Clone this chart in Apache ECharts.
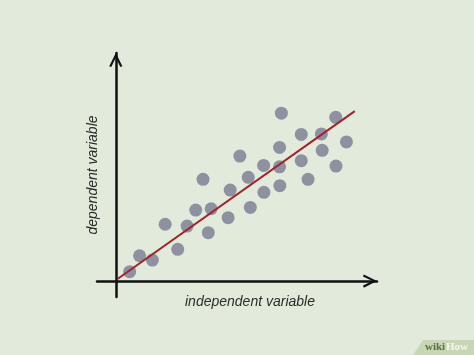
<!DOCTYPE html>
<html>
<head>
<meta charset="utf-8">
<script src="https://cdn.jsdelivr.net/npm/echarts@6/dist/echarts.min.js"></script>
<style>
  html, body { margin: 0; padding: 0; background: #e2ebdb; }
  #chart { width: 474px; height: 355px; }
</style>
</head>
<body>
<div id="chart"></div>
<script>
// scatter points (x, y)
var xValues = [0.53, 0.91, 1.40, 1.89, 2.37, 2.73, 3.06, 3.34, 3.54, 3.65, 4.30, 4.38, 4.75, 5.07, 5.15,
  5.66, 5.67, 6.27, 6.27, 6.28, 6.34, 7.10, 7.10, 7.36, 7.87, 7.90, 8.42, 8.43, 8.83]
var yValues = [0.41, 1.11, 0.92, 2.49, 1.39, 2.41, 3.11, 4.46, 2.12, 3.17, 2.78, 3.99, 5.48, 4.55, 3.23,
  5.07, 3.89, 5.86, 5.01, 4.18, 7.36, 6.43, 5.28, 4.46, 6.45, 5.73, 7.18, 5.04, 6.10]
// fitted line end points
var trendX = [0.05, 9.15]
var trendY = [0.08, 7.45]

var xName = 'independent variable'
var yName = 'dependent variable'

var points = xValues.map(function (x, i) { return [x, yValues[i]] })
var trend = trendX.map(function (x, i) { return [x, trendY[i]] })

// open chevron used as the axis arrow head
var chevron = 'path://M0,10 L5,0 L10,10 L8.4,10.6 L5,3.4 L1.6,10.6 Z'

var chart = echarts.init(document.getElementById('chart'))
var axisLine = {
  show: true,
  onZero: true,
  symbol: ['none', chevron],
  symbolSize: [17, 14],
  symbolOffset: [0, -7],
  lineStyle: { color: '#111', width: 2.5 }
}
var nameStyle = {
  fontFamily: 'Liberation Sans',
  fontStyle: 'italic',
  fontSize: 14,
  color: '#2a2a2a'
}
var option = {
  backgroundColor: '#e2ebdb',
  animation: false,
  grid: { left: 97, right: 97, top: 53, bottom: 58 },
  xAxis: {
    type: 'value',
    min: -0.72,
    max: 10,
    axisLine: axisLine,
    axisTick: { show: false },
    axisLabel: { show: false },
    splitLine: { show: false },
    name: xName,
    nameLocation: 'middle',
    nameGap: -2,
    nameTextStyle: Object.assign({ padding: [0, 0, 0, 26] }, nameStyle)
  },
  yAxis: {
    type: 'value',
    min: -0.7,
    max: 10,
    axisLine: axisLine,
    axisTick: { show: false },
    axisLabel: { show: false },
    splitLine: { show: false },
    name: yName,
    nameLocation: 'middle',
    nameGap: -3,
    nameTextStyle: nameStyle
  },
  series: [{
    type: 'scatter',
    data: points,
    symbolSize: 13,
    itemStyle: { color: '#8e919f', opacity: 1 },
    z: 2
  }, {
    type: 'line',
    data: trend,
    symbol: 'none',
    lineStyle: { color: '#a3212b', width: 2 },
    z: 3
  }],
  graphic: [{
    type: 'polygon',
    shape: { points: [[413, 355], [423, 340], [474, 340], [474, 355]] },
    style: { fill: '#c7d6b5' }
  }, {
    type: 'text',
    left: 425,
    top: 342,
    style: { text: 'wiki', font: 'bold 11px "Liberation Serif"', fill: '#5b6f40' }
  }, {
    type: 'text',
    left: 446,
    top: 342,
    style: { text: 'How', font: 'bold 11px "Liberation Serif"', fill: '#f4f7ef' }
  }]
}
chart.setOption(option)
</script>
</body>
</html>
